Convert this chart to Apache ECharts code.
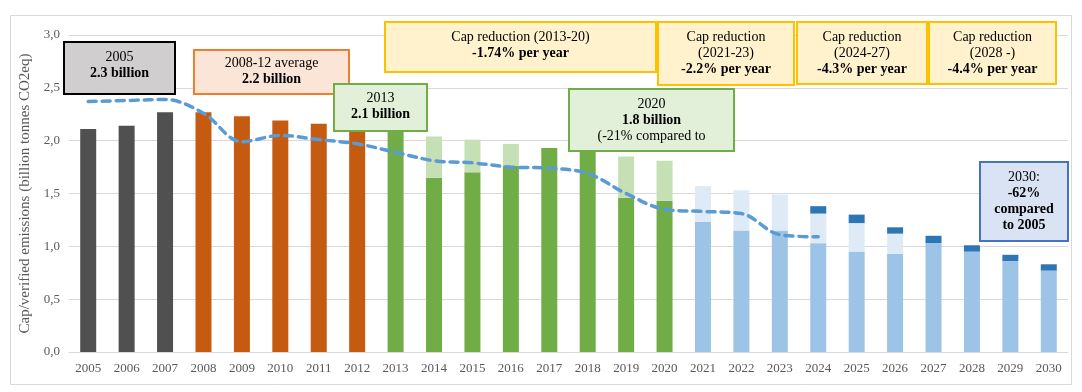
<!DOCTYPE html>
<html>
<head>
<meta charset="utf-8">
<script src="https://cdn.jsdelivr.net/npm/echarts@6/dist/echarts.min.js"></script>
<style>
html,body{margin:0;padding:0;background:#fff;}
#chart{width:1082px;height:392px;}
</style>
</head>
<body>
<div id="chart"></div>
<script>
// ---- data ----
var years = ['2005','2006','2007','2008','2009','2010','2011','2012','2013','2014','2015','2016','2017','2018','2019','2020','2021','2022','2023','2024','2025','2026','2027','2028','2029','2030'];
// lower (solid) part of each bar
var baseValues = [2.11,2.14,2.27,2.27,2.23,2.19,2.16,2.10,2.09,1.65,1.70,1.76,1.93,1.91,1.46,1.43,1.23,1.15,1.15,1.03,0.95,0.93,1.03,0.95,0.86,0.77];
// top of the light (cap) part of each bar
var capTop = [null,null,null,null,null,null,null,null,null,2.04,2.01,1.97,null,null,1.85,1.81,1.57,1.53,1.49,1.31,1.22,1.12,null,null,null,null];
// top of the dark blue cap segment
var darkTop = [null,null,null,null,null,null,null,null,null,null,null,null,null,null,null,null,null,null,null,1.38,1.30,1.18,1.10,1.01,0.92,0.83];
// dashed line
var lineValues = [2.37,2.38,2.39,2.26,1.99,2.05,2.01,1.97,1.89,1.81,1.79,1.75,1.74,1.69,1.50,1.35,1.33,1.31,1.11,1.09,null,null,null,null,null,null];
var yTicks = ['0,0','0,5','1,0','1,5','2,0','2,5','3,0'];

// ---- colours per period ----
function baseColor(i){
  var y = +years[i];
  if (y <= 2007) return '#505050';
  if (y <= 2012) return '#c55a11';
  if (y <= 2020) return '#70ad47';
  return '#9dc3e6';
}
function lightColor(i){
  return (+years[i] <= 2020) ? '#c5e0b4' : '#deebf7';
}

var baseData = baseValues.map(function(v,i){ return {value:v, itemStyle:{color:baseColor(i)}}; });
var lightData = capTop.map(function(v,i){
  if (v == null) return {value:0};
  return {value: +(v - baseValues[i]).toFixed(3), itemStyle:{color:lightColor(i)}};
});
var darkData = darkTop.map(function(v,i){
  if (v == null) return {value:0};
  var below = capTop[i] != null ? capTop[i] : baseValues[i];
  return {value: +(v - below).toFixed(3), itemStyle:{color:'#2e75b6'}};
});

var FONT = 'Liberation Serif';

function box(x, y, w, h, fill, stroke, lines, dy){
  var rich = {b:{fontFamily:FONT, fontSize:14, fontWeight:'bold', lineHeight:16, fill:'#000', color:'#000'}};
  var txt = lines.map(function(l){ return l.b ? '{b|' + l.t + '}' : l.t; }).join('\n');
  return {
    type:'group', z:100,
    children:[
      {type:'rect', z:100, shape:{x:x, y:y, width:w, height:h},
       style:{fill:fill, stroke:stroke, lineWidth:2}},
      {type:'text', z:101,
       style:{x:x + w/2, y:y + h/2 + (dy || 0), text:txt, fill:'#000',
              font:'14px "' + FONT + '"', fontFamily:FONT, fontSize:14, lineHeight:16,
              align:'center', verticalAlign:'middle', textAlign:'center', textVerticalAlign:'middle',
              rich:rich}}
    ]
  };
}

var yellowFill = '#fff2cc', yellowStroke = '#ffc000';
var greenFill = '#e2f0d9', greenStroke = '#70ad47';

var graphics = [
  {type:'rect', z:0, shape:{x:10.5, y:15.5, width:1061, height:369}, style:{fill:'none', stroke:'#d9d9d9', lineWidth:1}},
  box(64, 42, 111, 52, '#d0cece', '#000', [{t:'2005'},{t:'2.3 billion', b:1}], -3),
  box(194, 50, 155, 44, '#fbe5d6', '#ed7d31', [{t:'2008-12 average'},{t:'2.2 billion', b:1}], -1),
  box(334, 84, 93, 47, greenFill, greenStroke, [{t:'2013'},{t:'2.1 billion', b:1}], -1),
  box(385, 22, 271, 50, yellowFill, yellowStroke, [{t:'Cap reduction (2013-20)'},{t:'-1.74% per year', b:1}], -2),
  box(658, 22, 136, 63, yellowFill, yellowStroke, [{t:'Cap reduction'},{t:'(2021-23)'},{t:'-2.2% per year', b:1}], 0),
  box(797, 22, 130, 62, yellowFill, yellowStroke, [{t:'Cap reduction'},{t:'(2024-27)'},{t:'-4.3% per year', b:1}], 0),
  box(929, 22, 127, 62, yellowFill, yellowStroke, [{t:'Cap reduction'},{t:'(2028 -)'},{t:'-4.4% per year', b:1}], 0),
  box(569, 89, 165, 62, greenFill, greenStroke, [{t:'2020'},{t:'1.8 billion', b:1},{t:'(-21% compared to'}], 0),
  box(980, 162, 88, 79, '#dae3f3', '#4472c4', [{t:'2030:'},{t:'-62%', b:1},{t:'compared', b:1},{t:'to 2005', b:1}], 0)
];

var chart = echarts.init(document.getElementById('chart'), null, {renderer:'canvas'});
chart.setOption({
  animation:false,
  backgroundColor:'#fff',
  grid:{left:69, right:14, top:35, bottom:40, containLabel:false},
  xAxis:{
    type:'category', data:years,
    axisLine:{show:true, lineStyle:{color:'#d9d9d9', width:1}},
    axisTick:{show:false},
    axisLabel:{color:'#595959', fontFamily:FONT, fontSize:13, margin:10, interval:0}
  },
  yAxis:{
    type:'value', min:0, max:3, interval:0.5,
    name:'Cap/verified emissions (billion tonnes CO2eq)',
    nameLocation:'middle', nameRotate:90, nameGap:33,
    nameTextStyle:{color:'#595959', fontFamily:FONT, fontSize:15},
    axisLine:{show:false}, axisTick:{show:false},
    splitLine:{lineStyle:{color:'#d9d9d9', width:1}},
    axisLabel:{color:'#595959', fontFamily:FONT, fontSize:13, margin:9,
      formatter:function(v){ return yTicks[Math.round(v/0.5)]; }}
  },
  series:[
    {name:'base', type:'bar', stack:'s', barWidth:16, data:baseData, z:2},
    {name:'cap', type:'bar', stack:'s', barWidth:16, data:lightData, z:2},
    {name:'capDark', type:'bar', stack:'s', barWidth:16, data:darkData, z:2},
    {name:'trend', type:'line', data:lineValues, smooth:0.35, symbol:'none', z:5,
      lineStyle:{color:'#5b9bd5', width:3.5, type:[8,6], cap:'round'}}
  ],
  graphic:graphics
});
</script>
</body>
</html>
